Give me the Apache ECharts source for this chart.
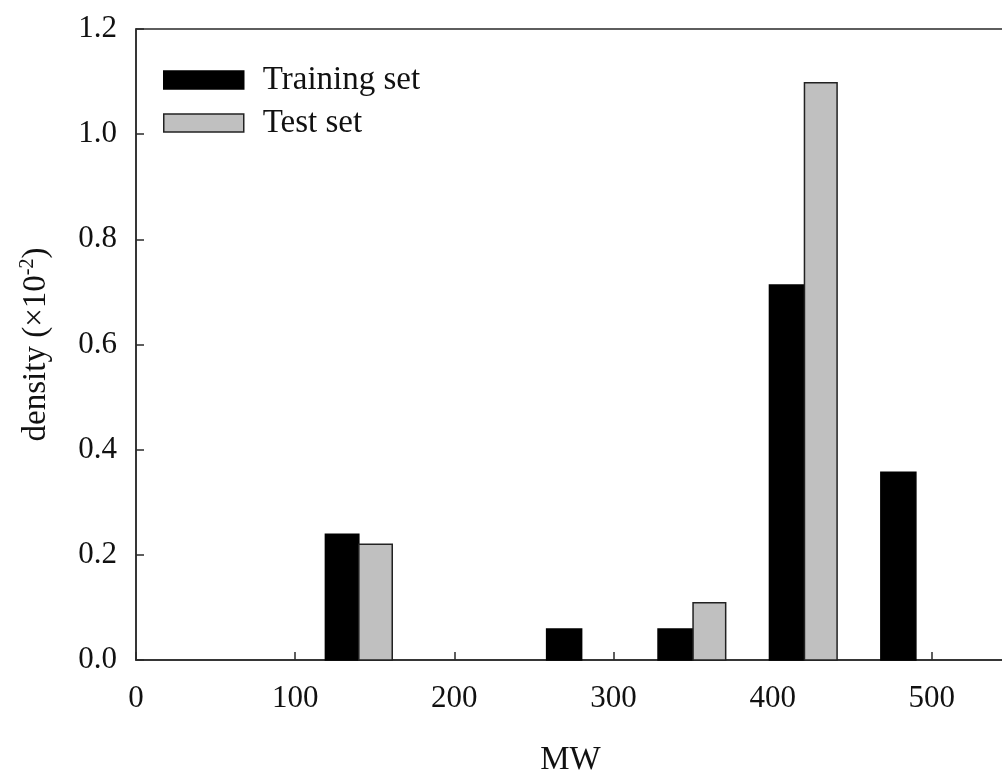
<!DOCTYPE html>
<html>
<head>
<meta charset="utf-8">
<script src="https://cdn.jsdelivr.net/npm/echarts@6/dist/echarts.min.js"></script>
<style>
html, body { margin: 0; padding: 0; background: #fff; }
#main { width: 1002px; height: 776px; }
</style>
</head>
<body>
<div id="main"></div>
<script>
// histogram bins (MW), bar edges and heights (density x10^-2)
var trainLo = [119, 258, 328, 398, 468];
var trainHi = [140, 280, 350, 420, 490];
var trainVal = [0.239, 0.059, 0.059, 0.713, 0.357];

var testLo = [140, 350, 420];
var testHi = [161, 370.5, 440.5];
var testVal = [0.220, 0.109, 1.098];

var xTicks = [0, 100, 200, 300, 400, 500];
var yTicks = [0.0, 0.2, 0.4, 0.6, 0.8, 1.0, 1.2];

function toRows(lo, hi, val) {
    var rows = [];
    for (var i = 0; i < val.length; i++) rows.push([lo[i], hi[i], val[i]]);
    return rows;
}

function renderBar(params, api) {
    var p0 = api.coord([api.value(0), api.value(2)]);
    var p1 = api.coord([api.value(1), 0]);
    return {
        type: 'rect',
        shape: { x: p0[0], y: p0[1], width: p1[0] - p0[0], height: p1[1] - p0[1] },
        style: api.style()
    };
}

var font = 'Liberation Serif, Times New Roman, serif';
var lineCol = '#2a2a2a';

var myChart = echarts.init(document.getElementById('main'));
var option = {
    backgroundColor: '#fff',
    animation: false,
    textStyle: { fontFamily: font },
    grid: {
        left: 136, right: -3, top: 29, bottom: 116,
        outerBoundsMode: 'none', containLabel: false,
        show: true, borderColor: lineCol, borderWidth: 1.5
    },
    legend: {
        orient: 'vertical',
        left: 158,
        top: 58,
        itemWidth: 80,
        itemHeight: 18,
        itemGap: 9,
        icon: 'rect',
        textStyle: { fontFamily: font, fontSize: 33, color: '#111', lineHeight: 34, padding: [0, 0, 0, 14] },
        data: [
            { name: 'Training set', itemStyle: { color: '#000', borderColor: '#000', borderWidth: 1.5 } },
            { name: 'Test set', itemStyle: { color: '#c0c0c0', borderColor: '#222', borderWidth: 1.5 } }
        ]
    },
    xAxis: {
        type: 'value',
        min: 0,
        max: 546,
        interval: 100,
        name: 'MW',
        nameLocation: 'middle',
        nameGap: 84,
        nameTextStyle: { fontFamily: font, fontSize: 33, color: '#111' },
        splitLine: { show: false },
        axisLine: { lineStyle: { color: lineCol, width: 1.5 } },
        axisTick: { inside: true, length: 8, lineStyle: { color: lineCol, width: 1.5 } },
        axisLabel: {
            fontFamily: font, fontSize: 31, color: '#111', margin: 23,
            formatter: function (v) { return xTicks.indexOf(v) >= 0 ? String(v) : ''; }
        }
    },
    yAxis: {
        type: 'value',
        min: 0,
        max: 1.2,
        interval: 0.2,
        name: 'density (×10{sup|-2})',
        nameLocation: 'middle',
        nameGap: 82,
        nameTextStyle: {
            fontFamily: font, fontSize: 33, color: '#111',
            rich: { sup: { fontFamily: font, fontSize: 20, color: '#111', verticalAlign: 'top', lineHeight: 36 } }
        },
        splitLine: { show: false },
        axisLine: { lineStyle: { color: lineCol, width: 1.5 } },
        axisTick: { inside: true, length: 8, lineStyle: { color: lineCol, width: 1.5 } },
        axisLabel: {
            fontFamily: font, fontSize: 31, color: '#111', margin: 19,
            formatter: function (v) { return v.toFixed(1); }
        }
    },
    series: [
        {
            name: 'Training set',
            type: 'custom',
            renderItem: renderBar,
            encode: { x: [0, 1], y: 2 },
            itemStyle: { color: '#000', borderColor: '#000', borderWidth: 1.5 },
            data: toRows(trainLo, trainHi, trainVal)
        },
        {
            name: 'Test set',
            type: 'custom',
            renderItem: renderBar,
            encode: { x: [0, 1], y: 2 },
            itemStyle: { color: '#c0c0c0', borderColor: '#222', borderWidth: 1.5 },
            data: toRows(testLo, testHi, testVal)
        }
    ]
};
myChart.setOption(option);
</script>
</body>
</html>
